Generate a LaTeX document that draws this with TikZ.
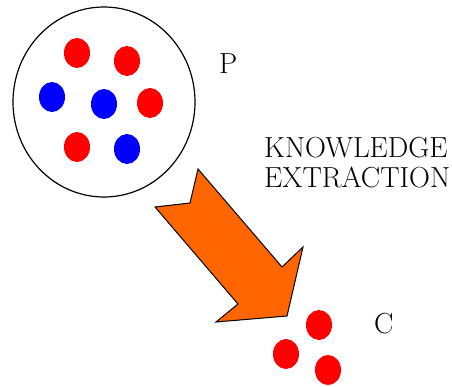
\documentclass[tikz,border=0pt]{standalone}
\usepackage{fontspec}
\definecolor{dotred}{RGB}{255,0,0}
\definecolor{dotblue}{RGB}{0,0,255}
\definecolor{arroworange}{RGB}{255,102,0}
\begin{document}
\begin{tikzpicture}[x=1pt,y=-1pt,
  reddot/.style={fill=dotred,draw=none},
  bluedot/.style={fill=dotblue,draw=none},
  lbl/.style={font=\fontsize{29}{30}\selectfont,inner sep=0pt,anchor=base west,align=left}]
\useasboundingbox (0,0) rectangle (452,386);
% population circle
\draw[line width=1.2pt] (104,102) ellipse [x radius=91, y radius=95];
\foreach \x/\y in {77/53,127/61,150/103,77/147}
  \fill[reddot] (\x,\y) ellipse [x radius=13, y radius=15];
\foreach \x/\y in {52/97,104/104,127/149}
  \fill[bluedot] (\x,\y) ellipse [x radius=13, y radius=15];
% labels
\node[lbl] (p) at (219,73) {P};
\node[lbl] (k) at (264,157) {KNOWLEDGE};
\node[lbl] (e) at (264,187) {EXTRACTION};
\node[lbl] (c) at (374,333) {C};
% arrow
\draw[fill=arroworange,line width=1pt,line join=miter]
  (198,169) -- (190,203) -- (155,207) -- (238,304) -- (216,322)
  -- (287,316) -- (303,247) -- (282,267) -- cycle;
% concept dots
\foreach \x/\y in {319/325,286/354,328/370}
  \fill[reddot] (\x,\y) ellipse [x radius=13, y radius=15];
\end{tikzpicture}
\end{document}
